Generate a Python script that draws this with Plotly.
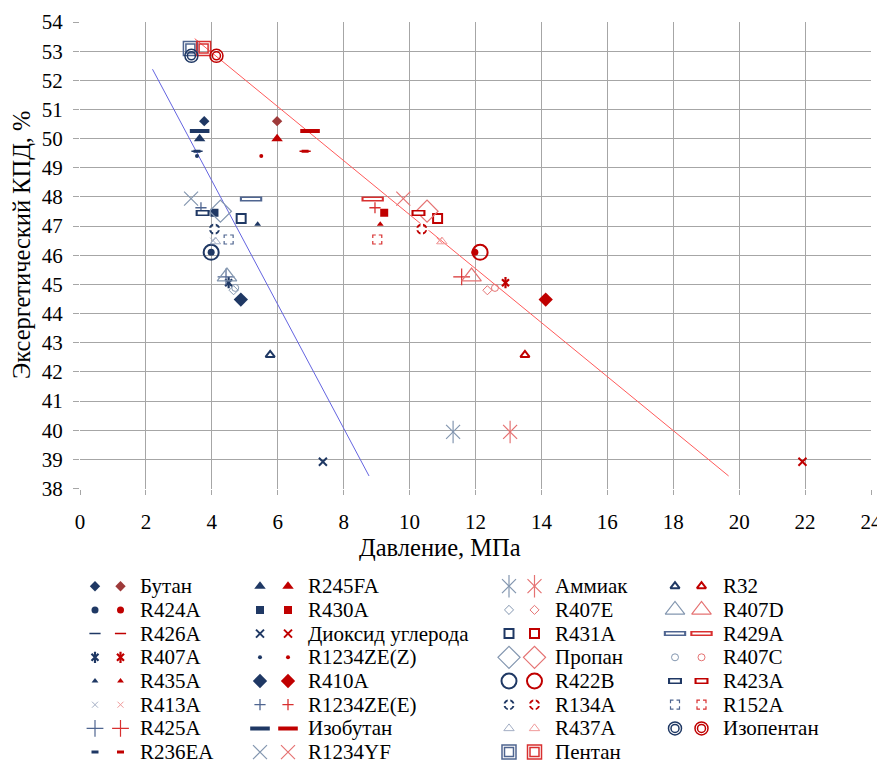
import plotly.graph_objects as go

# ---------------- data ----------------
names = ["Бутан", "R424A", "R426A", "R407A", "R435A", "R413A", "R425A", "R236EA",
         "R245FA", "R430A", "Диоксид углерода", "R1234ZE(Z)", "R410A", "R1234ZE(E)", "Изобутан", "R1234YF",
         "Аммиак", "R407E", "R431A", "Пропан", "R422B", "R134A", "R437A", "Пентан",
         "R32", "R407D", "R429A", "R407C", "R423A", "R152A", "Изопентан"]

eff = [50.6, 46.1, 49.57, 45.06, 47.06, 46.5, 45.26, 49.57,
       50.0, 47.46, 38.92, 49.4, 44.48, 47.63, 50.26, 47.94,
       39.94, 44.8, 47.26, 47.51, 46.1, 46.9, 46.47, 53.09,
       42.58, 45.27, 47.93, 44.88, 47.45, 46.54, 52.84]

p_blue = [3.77, 3.98, 3.55, 4.51, 5.39, 4.04, 4.43, 3.55,
          3.63, 4.08, 7.37, 3.55, 4.88, 3.67, 3.63, 3.37,
          11.32, 4.66, 4.89, 4.26, 3.98, 4.08, 4.11, 3.35,
          5.77, 4.46, 5.19, 4.71, 3.72, 4.51, 3.38]

p_red = [5.98, 11.98, 6.83, 12.91, 9.11, 10.91, 11.58, 6.83,
         5.98, 9.23, 21.92, 5.5, 14.13, 8.95, 6.98, 9.81,
         13.05, 12.36, 10.85, 10.53, 12.14, 10.37, 10.98, 3.75,
         13.5, 11.88, 8.88, 12.59, 10.27, 9.02, 4.14]

trend_blue_x = [2.2, 8.77]
trend_blue_y = [52.38, 38.43]
trend_red_x = [3.48, 19.68]
trend_red_y = [53.43, 38.43]

x_ticks = list(range(0, 25, 2))
y_ticks = list(range(38, 55, 1))

# ---------------- styles ----------------
PAL = {
    "dark": ("#1F3864", "#C00000"),
    "butan": ("#1F3864", "#9E3A3A"),
    "mid": ("#4F6590", "#D83030"),
    "light": ("#8497B0", "#E57373"),
    "pale": ("#A3AEC4", "#F09A9A"),
}
STY = {
    "Бутан": ("butan", [("diamond", 8, 0, "m")]),
    "R424A": ("dark", [("circle", 7, 0, "m")]),
    "R426A": ("dark", [("line-ew-open", 8, 1.5, "m")]),
    "R407A": ("dark", [("x-thin-open", 7, 2.2, "m"), ("line-ns-open", 8, 2.2, "m")]),
    "R435A": ("dark", [("triangle-up", 6, 0, "m")]),
    "R413A": ("pale", [("x-thin-open", 6, 1, "m")]),
    "R425A": ("mid", [("cross-thin-open", 12, 1.2, "m")]),
    "R236EA": ("dark", [("line-ew-open", 5, 3, "m")]),
    "R245FA": ("dark", [("triangle-up", 10, 0, "m")]),
    "R430A": ("dark", [("square", 8, 0, "m")]),
    "Диоксид углерода": ("dark", [("x-thin-open", 8, 2, "m")]),
    "R1234ZE(Z)": ("dark", [("circle", 4, 0, "m")]),
    "R410A": ("dark", [("diamond", 11, 0, "m")]),
    "R1234ZE(E)": ("mid", [("cross-thin-open", 8, 1.3, "m")]),
    "Изобутан": ("dark", [("line-ew-open", 14, 4, "m")]),
    "R1234YF": ("light", [("x-thin-open", 14, 1.2, "m")]),
    "Аммиак": ("light", [("x-thin-open", 14, 1.2, "m"), ("line-ns-open", 16, 1.2, "m")]),
    "R407E": ("light", [("diamond-open", 7, 1, "m")]),
    "R431A": ("dark", [("square-open", 9, 2, "m")]),
    "Пропан": ("light", [("diamond-open", 17, 1.2, "m")]),
    "R422B": ("dark", [("circle-open", 15, 2, "m")]),
    "R134A": ("dark", [("circle-open", 9, 2, "m"), ("cross-thin-open", 12, 2.5, "w")]),
    "R437A": ("pale", [("triangle-up-open", 9, 1, "m")]),
    "Пентан": ("mid", [("square-open", 14, 1.5, "m"), ("square-open", 9, 1.5, "m")]),
    "R32": ("dark", [("triangle-up-open", 8, 2, "m")]),
    "R407D": ("light", [("triangle-up-open", 17, 1.2, "m")]),
    "R429A": ("mid", [("line-ew-open", 16, 5, "m"), ("line-ew-open", 13, 2, "w")]),
    "R407C": ("light", [("circle-open", 7, 1, "m")]),
    "R423A": ("dark", [("line-ew-open", 10, 6, "m"), ("line-ew-open", 7, 3, "w")]),
    "R152A": ("mid", [("square-open", 9, 1.2, "m"), ("cross-thin-open", 11, 3, "w")]),
    "Изопентан": ("dark", [("circle-open", 13, 1.5, "m"), ("circle-open", 8, 1.5, "m")]),
}

FONT = "Liberation Serif"
TICK_FS, LEG_FS, TITLE_FS = 21, 21, 24.5
OFF = 8                       # default page body margin
W, H = 885 - OFF, 765 - OFF
ML, MR, MT, MB = 72, 14, 14, 5
PW, PH = W - ML - MR, H - MT - MB
MAIN_BOTTOM_REF = 488.5       # page pixel of y = 38
LEG_DOM = 0.30

fig = go.Figure()


def add_marker(xs, ys, layers, color, xa, ya):
    for sym, size, lw, kind in layers:
        c = "white" if kind == "w" else color
        fig.add_trace(go.Scatter(
            x=xs, y=ys, mode="markers", xaxis=xa, yaxis=ya,
            showlegend=False, hoverinfo="skip",
            marker=dict(symbol=sym, size=size, color=c,
                        line=dict(color=c, width=lw))))


# trend lines
fig.add_trace(go.Scatter(x=trend_blue_x, y=trend_blue_y, mode="lines",
                         line=dict(color="#6464E0", width=1), showlegend=False, hoverinfo="skip"))
fig.add_trace(go.Scatter(x=trend_red_x, y=trend_red_y, mode="lines",
                         line=dict(color="#FF5A5A", width=1), showlegend=False, hoverinfo="skip"))

# data points
for i, n in enumerate(names):
    pal, layers = STY[n]
    cb, cr = PAL[pal]
    add_marker([p_blue[i]], [eff[i]], layers, cb, "x", "y")
    add_marker([p_red[i]], [eff[i]], layers, cr, "x", "y")

# manual legend (two markers per entry); legend axes use page-pixel units
col_blue = [95, 260, 509, 675]
col_red = [120.5, 288, 534.5, 701.5]
col_lab = [138, 306, 553, 720.5]
row0, row_dy = 586.2, 23.7
for i, n in enumerate(names):
    c, r = divmod(i, 8)
    y = row0 + r * row_dy
    pal, layers = STY[n]
    cb, cr = PAL[pal]
    add_marker([col_blue[c]], [y], layers, cb, "x2", "y2")
    add_marker([col_red[c]], [y], layers, cr, "x2", "y2")
    fig.add_annotation(x=col_lab[c], y=y, xref="x2", yref="y2", text=n, showarrow=False,
                       xanchor="left", yanchor="middle", font=dict(family=FONT, size=LEG_FS, color="black"))

main_dom_y0 = (H - MB - (MAIN_BOTTOM_REF - OFF)) / PH
leg_top_ref = (H - MB - LEG_DOM * PH) + OFF

grid = "#A6A6A6"
fig.update_layout(
    width=W, height=H, margin=dict(l=ML, r=MR, t=MT, b=MB),
    paper_bgcolor="white", plot_bgcolor="white",
    font=dict(family=FONT, size=TICK_FS, color="black"),
    xaxis=dict(range=[0, 24], tickvals=x_ticks, showgrid=True, gridcolor=grid, gridwidth=1.3,
               zeroline=False, showline=False, ticks="outside", ticklen=5, tickcolor=grid, tickwidth=1.3,
               ticklabelstandoff=9, domain=[0, 1], anchor="y", automargin=False,
               tickfont=dict(family=FONT, size=TICK_FS, color="black")),
    yaxis=dict(range=[38, 54], tickvals=y_ticks, showgrid=True, gridcolor=grid, gridwidth=1.3,
               zeroline=False, showline=False, ticks="outside", ticklen=6, tickcolor=grid, tickwidth=1.3,
               ticklabelstandoff=6, domain=[main_dom_y0, 1], anchor="x", automargin=False,
               tickfont=dict(family=FONT, size=TICK_FS, color="black")),
    xaxis2=dict(range=[ML + OFF, W - MR + OFF], domain=[0, 1], anchor="y2", visible=False, fixedrange=True),
    yaxis2=dict(range=[H - MB + OFF, leg_top_ref], domain=[0, LEG_DOM], anchor="x2", visible=False,
                fixedrange=True),
)


def paper_xy(px, py):
    return (px - OFF - ML) / PW, (H - MB - (py - OFF)) / PH


tx, ty = paper_xy(440, 547)
fig.add_annotation(xref="paper", yref="paper", x=tx, y=ty,
                   text="Давление, МПа", showarrow=False, xanchor="center", yanchor="middle",
                   font=dict(family=FONT, size=TITLE_FS, color="black"))
tx, ty = paper_xy(21, 245)
fig.add_annotation(xref="paper", yref="paper", x=tx, y=ty,
                   text="Эксергетический КПД, %", showarrow=False, textangle=-90,
                   xanchor="center", yanchor="middle",
                   font=dict(family=FONT, size=TITLE_FS, color="black"))

fig.write_html("out.html")
